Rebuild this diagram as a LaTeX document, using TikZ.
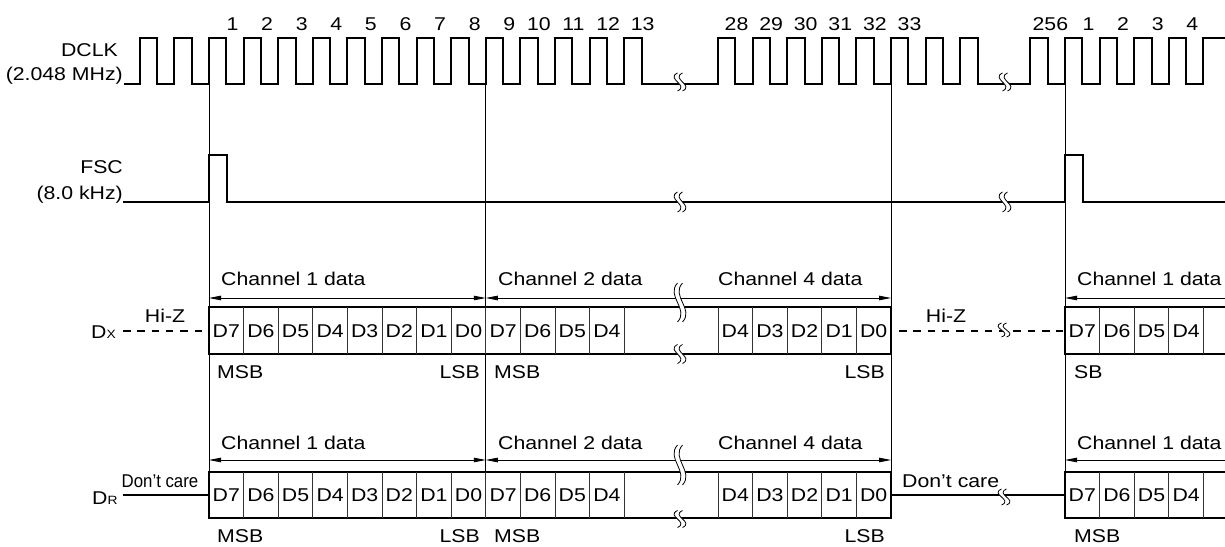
\documentclass[tikz,border=0pt]{standalone}
\usepackage{fontspec}
\setmainfont{Liberation Sans}[FakeStretch=1.15]
\usetikzlibrary{arrows.meta}
\tikzset{
  wave/.style={line width=2pt, line join=miter},
  boxline/.style={line width=2.5pt, line join=miter},
  cell/.style={line width=0.8pt, black!80},
  guide/.style={line width=0.9pt},
  dim/.style={line width=0.8pt, {Triangle[length=12pt,width=4.5pt]}-{Triangle[length=12pt,width=4.5pt]}},
  dimL/.style={line width=0.8pt, {Triangle[length=12pt,width=4.5pt]}-},
  dashline/.style={line width=2.2pt, dash pattern=on 7.5pt off 6.8pt},
  solidline/.style={line width=2.5pt},
  lbl/.style={inner sep=0pt, font=\fontsize{18.5}{20}\selectfont},
  pics/brk/.style={code={
    \fill[white] (-2.5,-#1) .. controls (-14.5,-#1/3) and (9.5,#1/3) .. (-2.5,#1)
      -- (2.5,#1) .. controls (14.5,#1/3) and (-9.5,-#1/3) .. (2.5,-#1) -- cycle;
    \draw[line width=0.8pt] (-2.5,-#1) .. controls (-14.5,-#1/3) and (9.5,#1/3) .. (-2.5,#1);
    \draw[line width=0.8pt] (2.5,-#1) .. controls (-9.5,-#1/3) and (14.5,#1/3) .. (2.5,#1);
  }}
}
\newcommand{\subx}[1]{{\fontsize{12}{12}\selectfont #1}}
\begin{document}
\begin{tikzpicture}[x=1pt,y=-1pt]
\useasboundingbox (0,0) rectangle (1225,546);

% guide lines
\foreach \gx/\gn in {209/a,485.8/b,891/c,1065/d} {
  \coordinate (gt\gn) at (\gx,84);
  \coordinate (gb\gn) at (\gx,472);
  \draw[guide] (gt\gn) -- (gb\gn);
}

% DCLK waveform
\draw[wave] (124,84)
  foreach \k in {0,...,14} { -- ({139.8+34.6*\k},84) -- ++(0,-46) -- ++(17.3,0) -- ++(0,46) }
  -- (690,84)
  foreach \k in {0,...,7} { -- ({718+34.6*\k},84) -- ++(0,-46) -- ++(17.3,0) -- ++(0,46) }
  -- (1010,84)
  foreach \k in {0,...,4} { -- ({1030.4+34.6*\k},84) -- ++(0,-46) -- ++(17.3,0) -- ++(0,46) }
  -- (1203.4,84) -- (1203.4,38) -- (1227,38);

% FSC waveform
\draw[wave] (123,202) -- (209,202) -- (209,155) -- (227,155) -- (227,202)
  -- (1065,202) -- (1065,155) -- (1083,155) -- (1083,202) -- (1227,202);

% left labels
\node[lbl, anchor=base east] (dclk) at (118,56) {DCLK};
\node[lbl, anchor=base east] (dclkf) at (123,80) {(2.048 MHz)};
\node[lbl, anchor=base east] (fsc) at (123,173) {FSC};
\node[lbl, anchor=base east] (fscf) at (123,199) {(8.0 kHz)};
\node[lbl, anchor=base west] (dx) at (91,338) {D\subx{X}};
\node[lbl, anchor=base west] (dr) at (92,504) {D\subx{R}};

% clock numbers
\foreach \n in {1,...,9} \node[lbl, anchor=base] (c\n) at ({209+34.6*(\n-1)+23.5},30) {\n};
\foreach \n in {10,...,13} \node[lbl, anchor=base] (c\n) at ({209+34.6*(\n-1)+18.5},30) {\n};
\foreach \n in {28,...,33} \node[lbl, anchor=base] (c\n) at ({891+34.6*(\n-33)+18.5},30) {\n};
\node[lbl, anchor=base] (c256) at (1050.4,30) {256};
\foreach \n in {1,...,4} \node[lbl, anchor=base] (cc\n) at ({1065+34.6*(\n-1)+23.5},30) {\n};

% data rows
\foreach \row/\yt/\yb/\ya/\yc/\yl/\ym in {x/307/354/298/285/337/378, r/472/518/460/449/501.6/542} {
  \draw[boxline] (209,\yt) rectangle (891,\yb);
  \draw[boxline] (1227,\yt) -- (1065,\yt) -- (1065,\yb) -- (1227,\yb);
  \foreach \k in {1,...,12} \draw[cell] ({209+34.6*\k},\yt) -- ({209+34.6*\k},\yb);
  \foreach \k in {0,...,4} \draw[cell] ({718+34.6*\k},\yt) -- ({718+34.6*\k},\yb);
  \foreach \k in {1,...,4} \draw[cell] ({1065+34.6*\k},\yt) -- ({1065+34.6*\k},\yb);
  \foreach \i/\t in {0/D7,1/D6,2/D5,3/D4,4/D3,5/D2,6/D1,7/D0,8/D7,9/D6,10/D5,11/D4}
    \node[lbl, anchor=base] (d\row a\i) at ({209+34.6*(\i+0.5)},\yl) {\t};
  \foreach \i/\t in {0/D4,1/D3,2/D2,3/D1,4/D0}
    \node[lbl, anchor=base] (d\row b\i) at ({718+34.6*(\i+0.5)},\yl) {\t};
  \foreach \i/\t in {0/D7,1/D6,2/D5,3/D4}
    \node[lbl, anchor=base] (d\row c\i) at ({1065+34.6*(\i+0.5)},\yl) {\t};
  \coordinate (a\row1) at (209,\ya);
  \coordinate (a\row2) at (485.8,\ya);
  \coordinate (a\row3) at (891,\ya);
  \coordinate (a\row4) at (1065,\ya);
  \coordinate (a\row5) at (1227,\ya);
  \draw[dim] (a\row1) -- (a\row2);
  \draw[dim] (a\row2) -- (a\row3);
  \draw[dimL] (a\row4) -- (a\row5);
  \node[lbl, anchor=base west] (ch\row1) at (221,\yc) {Channel 1 data};
  \node[lbl, anchor=base west] (ch\row2) at (498,\yc) {Channel 2 data};
  \node[lbl, anchor=base west] (ch\row4) at (718,\yc) {Channel 4 data};
  \node[lbl, anchor=base west] (ch\row5) at (1077,\yc) {Channel 1 data};
  \node[lbl, anchor=base west] (msb\row1) at (217,\ym) {MSB};
  \node[lbl, anchor=base east] (lsb\row1) at (480,\ym) {LSB};
  \node[lbl, anchor=base west] (msb\row2) at (494,\ym) {MSB};
  \node[lbl, anchor=base east] (lsb\row2) at (885,\ym) {LSB};
}
\node[lbl, anchor=base west] (msbx3) at (1074,378) {SB};
\node[lbl, anchor=base west] (msbr3) at (1074,542) {MSB};

% Dx idle lines
\coordinate (hx1) at (123,331);
\coordinate (hx2) at (207,331);
\coordinate (hx3) at (899,331);
\coordinate (hx4) at (1063,331);
\draw[dashline] (hx1) -- (hx2);
\draw[dashline] (hx3) -- (hx4);
\node[lbl, anchor=base] (hiz1) at (165,322) {Hi-Z};
\node[lbl, anchor=base] (hiz2) at (946,322) {Hi-Z};

% DR idle lines
\coordinate (hr1) at (123,495);
\coordinate (hr2) at (209,495);
\coordinate (hr3) at (891,495);
\coordinate (hr4) at (1065,495);
\draw[solidline] (hr1) -- (hr2);
\draw[solidline] (hr3) -- (hr4);
\node[lbl, anchor=base, xscale=0.79] (dc1) at (160,487) {Don’t care};
\node[lbl, anchor=base west] (dc2) at (902,487) {Don’t care};

% break marks
\pic at (680,82) {brk=9};
\pic at (1005,82) {brk=9};
\pic at (680,202) {brk=10};
\pic at (1005,202) {brk=10};
\pic at (680,302.5) {brk=19.5};
\pic at (680,354) {brk=9.5};
\pic at (1004,330) {brk=7};
\pic at (680,465) {brk=20};
\pic at (680,519) {brk=8.5};
\pic at (1004,497) {brk=8};
\end{tikzpicture}
\end{document}
